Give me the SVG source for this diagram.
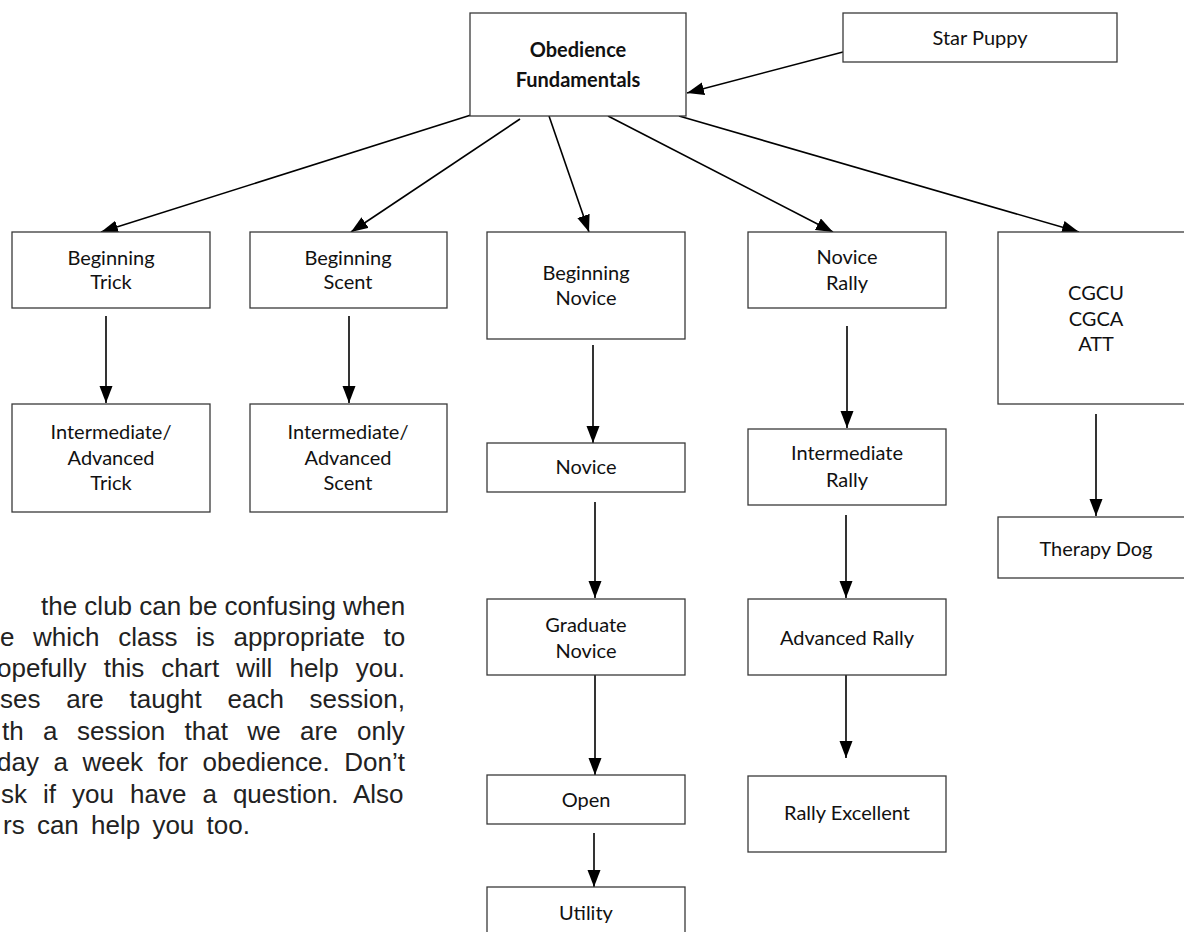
<svg xmlns="http://www.w3.org/2000/svg" width="1184" height="932" viewBox="0 0 1184 932">
<style>
.box{fill:#fff;stroke:#3a3a3a;stroke-width:1.3}
.lbl{font-family:Lato,"Liberation Sans",sans-serif;font-size:20px;fill:#111;text-anchor:middle}
.bold{font-weight:bold}
.con{stroke:#000;stroke-width:1.6;fill:none;marker-end:url(#ah)}
.para{font-family:"Liberation Sans",Arial,sans-serif;font-size:26px;fill:#222}
</style>
<defs>
<marker id="ah" markerUnits="userSpaceOnUse" markerWidth="18" markerHeight="14" refX="17" refY="6.5" orient="auto">
<path d="M0,0 L17,6.5 L0,13 Z" fill="#000"/>
</marker>
</defs>
<rect width="1184" height="932" fill="#fff"/>
<g id="connectors">
<line class="con" x1="843" y1="52" x2="687" y2="93"/>
<line class="con" x1="471" y1="115" x2="101" y2="232"/>
<line class="con" x1="520" y1="119" x2="351" y2="232"/>
<line class="con" x1="549" y1="116" x2="589" y2="232"/>
<line class="con" x1="608" y1="116" x2="833" y2="232"/>
<line class="con" x1="679" y1="116" x2="1079" y2="232"/>
<line class="con" x1="106" y1="316" x2="106" y2="403"/>
<line class="con" x1="349" y1="316" x2="349" y2="403"/>
<line class="con" x1="593" y1="345" x2="593" y2="443"/>
<line class="con" x1="595" y1="502" x2="595" y2="598"/>
<line class="con" x1="595" y1="675" x2="595" y2="775"/>
<line class="con" x1="594" y1="833" x2="594" y2="887"/>
<line class="con" x1="847" y1="326" x2="847" y2="428"/>
<line class="con" x1="846" y1="515" x2="846" y2="598"/>
<line class="con" x1="846" y1="675" x2="846" y2="758"/>
<line class="con" x1="1096" y1="414" x2="1096" y2="516"/>
</g>
<g id="obedience">
<rect class="box" x="470" y="13" width="216" height="103"/>
<text class="lbl bold" x="578" y="57">Obedience</text>
<text class="lbl bold" x="578" y="87">Fundamentals</text>
</g>
<g id="star-puppy">
<rect class="box" x="843" y="13" width="274" height="49"/>
<text class="lbl" x="980" y="45">Star Puppy</text>
</g>
<g id="beginning-trick">
<rect class="box" x="12" y="232" width="198" height="76"/>
<text class="lbl" x="111" y="265">Beginning</text>
<text class="lbl" x="111" y="289">Trick</text>
</g>
<g id="beginning-scent">
<rect class="box" x="250" y="232" width="197" height="76"/>
<text class="lbl" x="348" y="265">Beginning</text>
<text class="lbl" x="348" y="289">Scent</text>
</g>
<g id="beginning-novice">
<rect class="box" x="487" y="232" width="198" height="107"/>
<text class="lbl" x="586" y="280">Beginning</text>
<text class="lbl" x="586" y="305">Novice</text>
</g>
<g id="novice-rally">
<rect class="box" x="748" y="232" width="198" height="76"/>
<text class="lbl" x="847" y="264">Novice</text>
<text class="lbl" x="847" y="290">Rally</text>
</g>
<g id="cgcu">
<rect class="box" x="998" y="232" width="200" height="172"/>
<text class="lbl" x="1096" y="300">CGCU</text>
<text class="lbl" x="1096" y="326">CGCA</text>
<text class="lbl" x="1096" y="351">ATT</text>
</g>
<g id="int-adv-trick">
<rect class="box" x="12" y="404" width="198" height="108"/>
<text class="lbl" x="111" y="439">Intermediate/</text>
<text class="lbl" x="111" y="465">Advanced</text>
<text class="lbl" x="111" y="490">Trick</text>
</g>
<g id="int-adv-scent">
<rect class="box" x="250" y="404" width="197" height="108"/>
<text class="lbl" x="348" y="439">Intermediate/</text>
<text class="lbl" x="348" y="465">Advanced</text>
<text class="lbl" x="348" y="490">Scent</text>
</g>
<g id="novice">
<rect class="box" x="487" y="443" width="198" height="49"/>
<text class="lbl" x="586" y="474">Novice</text>
</g>
<g id="intermediate-rally">
<rect class="box" x="748" y="429" width="198" height="76"/>
<text class="lbl" x="847" y="460">Intermediate</text>
<text class="lbl" x="847" y="487">Rally</text>
</g>
<g id="therapy-dog">
<rect class="box" x="998" y="517" width="200" height="61"/>
<text class="lbl" x="1096" y="556">Therapy Dog</text>
</g>
<g id="graduate-novice">
<rect class="box" x="487" y="599" width="198" height="76"/>
<text class="lbl" x="586" y="632">Graduate</text>
<text class="lbl" x="586" y="658">Novice</text>
</g>
<g id="advanced-rally">
<rect class="box" x="748" y="599" width="198" height="76"/>
<text class="lbl" x="847" y="645">Advanced Rally</text>
</g>
<g id="open">
<rect class="box" x="487" y="775" width="198" height="49"/>
<text class="lbl" x="586" y="807">Open</text>
</g>
<g id="rally-excellent">
<rect class="box" x="748" y="776" width="198" height="76"/>
<text class="lbl" x="847" y="820">Rally Excellent</text>
</g>
<g id="utility">
<rect class="box" x="487" y="887" width="198" height="60"/>
<text class="lbl" x="586" y="920">Utility</text>
</g>
<g id="paragraph" class="para">
<text x="41" y="615">the club can be confusing when</text>
<text x="0" y="646" word-spacing="11.4">e which class is appropriate to</text>
<text x="-3" y="677" word-spacing="9.9">opefully this chart will help you.</text>
<text x="0" y="708" word-spacing="18.5">ses are taught each session,</text>
<text x="2" y="740" word-spacing="12.2">th a session that we are only</text>
<text x="-3" y="771" word-spacing="7.3">day a week for obedience. Don’t</text>
<text x="1" y="803" word-spacing="8.8">sk if you have a question. Also</text>
<text x="3" y="834" word-spacing="5">rs can help you too.</text>
</g>
</svg>
